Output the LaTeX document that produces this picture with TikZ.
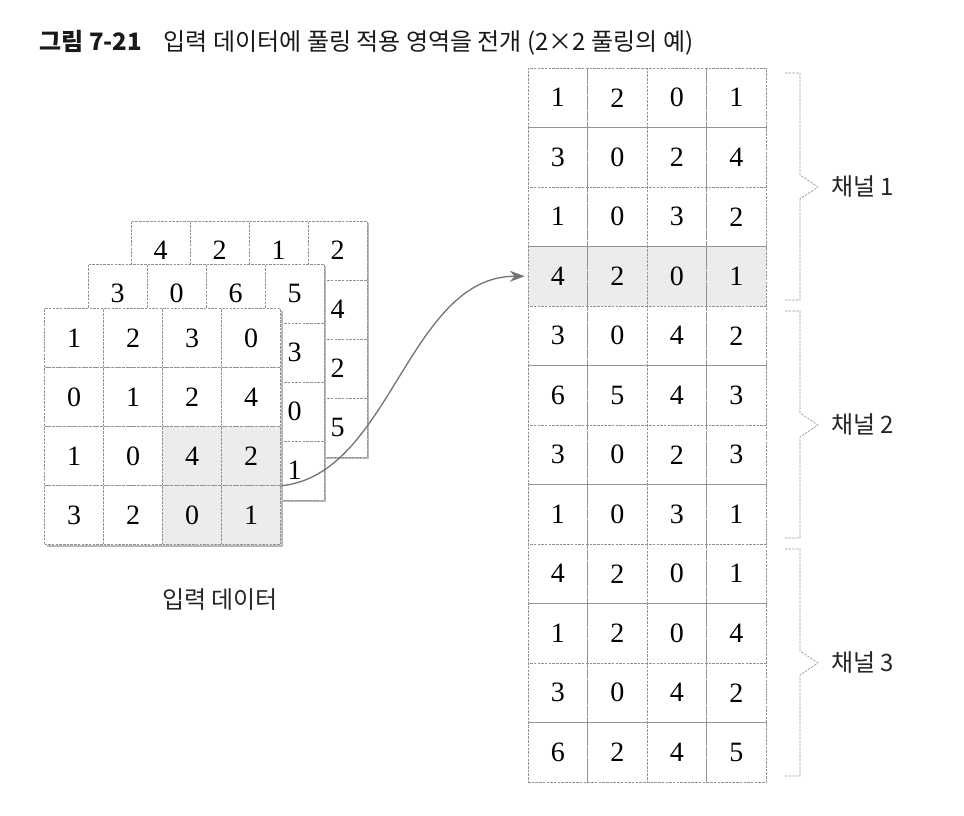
\documentclass[tikz,border=0pt]{standalone}
\usepackage{fontspec}
\setmainfont{Liberation Serif}
\newfontfamily\kr{Noto Sans CJK KR}
\usetikzlibrary{arrows.meta,positioning}

\begin{document}
\begin{tikzpicture}[x=1pt,y=-1pt,
	cell/.style={draw=gray!85,dash pattern=on 2.5pt off 1.2pt,line width=0.5pt,fill=white,minimum size=59pt,inner sep=0pt,font=\fontsize{28}{28}\selectfont},
	hlcell/.style={cell,fill=gray!15},
	rcell/.style={cell,minimum size=59.5pt},
	hlrcell/.style={rcell,fill=gray!15},
	layershadow/.style={fill=gray!55},
	brace/.style={draw=gray!85,dash pattern=on 2.5pt off 1.2pt,line width=0.6pt},
	label/.style={font=\kr\fontsize{24}{24}\selectfont,inner sep=1pt,text=black!85},
	arrow/.style={draw=black!55,line width=1.3pt,-{Stealth[length=15pt,width=11pt]},shorten >=3pt}]
	\useasboundingbox (0,0) rectangle (964,816);
	\node[anchor=west,font=\kr\fontsize{24}{24}\selectfont,text=black!90] (title) at (36,43) {{\bfseries 그림 7-21}\hspace{0.9em}입력 데이터에 풀링 적용 영역을 전개 (2×2 풀링의 예)};
	% channel 3 (back)
	\fill[layershadow] (133,223) rectangle (369,459);
	\foreach \row [count=\i] in {{4,2,1,2},{{},{},{},4},{{},{},{},2},{{},{},{},5}}
		\foreach \v [count=\j] in \row
			\node[cell] (b_\i_\j) at ({131+59*(\j-0.5)},{221+59*(\i-0.5)}) {\v};
	% channel 2 (middle)
	\fill[layershadow] (90,266) rectangle (326,502);
	\foreach \row [count=\i] in {{3,0,6,5},{{},{},{},3},{{},{},{},0},{{},{},{},1}}
		\foreach \v [count=\j] in \row
			\node[cell] (m_\i_\j) at ({88+59*(\j-0.5)},{264+59*(\i-0.5)}) {\v};
	% channel 1 (front)
	\fill[layershadow] (46.5,310.5) rectangle (282.5,546.5);
	\foreach \row [count=\i] in {{1,2,3,0},{0,1,2,4},{1,0,4,2},{3,2,0,1}}
		\foreach \v [count=\j] in \row {
			\ifnum\i>2 \ifnum\j>2 \def\cellsty{hlcell}\else\def\cellsty{cell}\fi\else\def\cellsty{cell}\fi
			\node[\cellsty] (f_\i_\j) at ({44.5+59*(\j-0.5)},{308.5+59*(\i-0.5)}) {\v};
		}
	% expanded column
	\foreach \row [count=\i] in {{1,2,0,1},{3,0,2,4},{1,0,3,2},{4,2,0,1},{3,0,4,2},{6,5,4,3},{3,0,2,3},{1,0,3,1},{4,2,0,1},{1,2,0,4},{3,0,4,2},{6,2,4,5}}
		\foreach \v [count=\j] in \row {
			\ifnum\i=4 \def\cellsty{hlrcell}\else\def\cellsty{rcell}\fi
			\node[\cellsty] (r_\i_\j) at ({528+59.5*(\j-0.5)},{68+59.5*(\i-0.5)}) {\v};
		}
	% braces
	\foreach \g in {1,2,3} {
		\pgfmathsetmacro\gy{68+238*(\g-1)}
		\draw[brace] (785,\gy+5) -- (800,\gy+5) -- (800,\gy+107) -- (818,\gy+119) -- (800,\gy+131) -- (800,\gy+232) -- (785,\gy+232);
		\coordinate (tip_\g) at (818,\gy+119);
		\node[label,right=12pt of tip_\g] (ch_\g) {채널 \g};
	}
	\draw[arrow] (f_3_4.south east) .. controls +(110,-10) and +(-120,0) .. (r_4_1.west);
	\node[label] (input) at (220,600) {입력 데이터};
\end{tikzpicture}
\end{document}
